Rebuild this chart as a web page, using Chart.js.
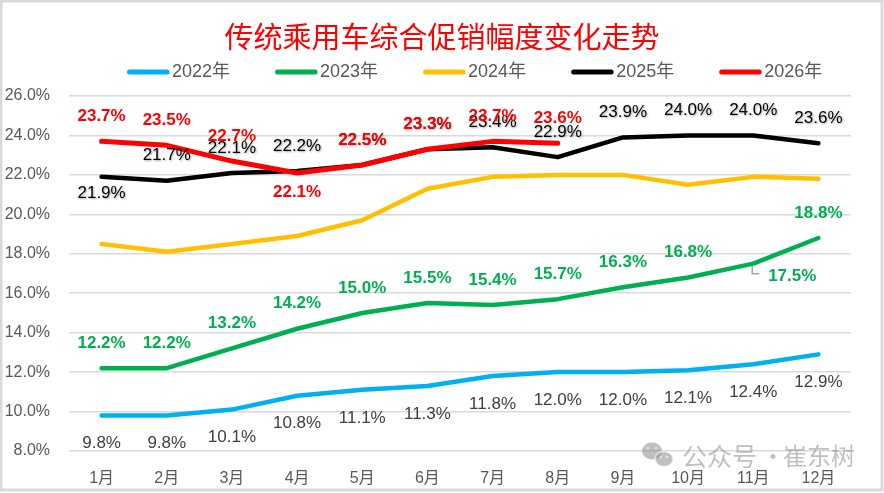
<!DOCTYPE html>
<html>
<head>
<meta charset="utf-8">
<script src="https://cdn.jsdelivr.net/npm/chart.js@4.4.0/dist/chart.umd.min.js"></script>
<style>
  html, body { margin: 0; padding: 0; background: #fff; }
  canvas { display: block; }
</style>
</head>
<body>
<canvas id="chart" width="884" height="493"></canvas>
<script>
// data
const chartTitle = '传统乘用车综合促销幅度变化走势';
const months = ['1月', '2月', '3月', '4月', '5月', '6月', '7月', '8月', '9月', '10月', '11月', '12月'];
const seriesNames = ['2022年', '2023年', '2024年', '2025年', '2026年'];
const y2022 = [9.8, 9.8, 10.1, 10.8, 11.1, 11.3, 11.8, 12.0, 12.0, 12.1, 12.4, 12.9];
const y2023 = [12.2, 12.2, 13.2, 14.2, 15.0, 15.5, 15.4, 15.7, 16.3, 16.8, 17.5, 18.8];
const y2024 = [18.5, 18.1, 18.5, 18.9, 19.7, 21.3, 21.9, 22.0, 22.0, 21.5, 21.9, 21.8];
const y2025 = [21.9, 21.7, 22.1, 22.2, 22.5, 23.3, 23.4, 22.9, 23.9, 24.0, 24.0, 23.6];
const y2026 = [23.7, 23.5, 22.7, 22.1, 22.5, 23.3, 23.7, 23.6];
const yMin = 8, yMax = 26, yStep = 2;

// styles
const NUM_FONT = '"Liberation Sans", Arial, "Noto Sans CJK SC", sans-serif';
const CJK_FONT = '"Noto Sans CJK SC", "Liberation Sans", sans-serif';
const lineColors = ['#00B0F0', '#00B050', '#FFC000', '#000000', '#FF0000'];
const lineWidths = [4.5, 4.5, 4.5, 4.5, 5];
const drawOrder = [4, 3, 2, 1, 0]; // red on top

// data label look per series (null = no labels); "moves" overrides per point
const labelStyles = [
    { font: '17px ' + NUM_FONT, color: '#404040', dy: 28 },
    { font: 'bold 17px ' + NUM_FONT, color: '#00B050', dy: -25, moves: { 10: { dx: 39, dy: 13, leader: true } } },
    null,
    { font: '17px ' + NUM_FONT, color: '#000000', dy: -25, shadow: true, moves: { 0: { dy: 16 } } },
    { font: 'bold 17px ' + NUM_FONT, color: '#FF0000', dy: -25, moves: { 3: { dy: 19 } } },
];

const valueLabels = {
    id: 'valueLabels',
    afterDatasetsDraw(chart) {
        const ctx = chart.ctx;
        labelStyles.forEach((st, i) => {
            if (!st) return;
            const meta = chart.getDatasetMeta(i);
            const values = chart.data.datasets[i].data;
            meta.data.forEach((pt, j) => {
                const mv = (st.moves && st.moves[j]) || {};
                const dx = mv.dx || 0;
                const dy = mv.dy !== undefined ? mv.dy : st.dy;
                ctx.save();
                if (mv.leader) {
                    ctx.strokeStyle = '#a6a6a6';
                    ctx.lineWidth = 1.5;
                    ctx.beginPath();
                    ctx.moveTo(pt.x - 1, pt.y + 2);
                    ctx.lineTo(pt.x - 1, pt.y + 10);
                    ctx.lineTo(pt.x + 6, pt.y + 10);
                    ctx.stroke();
                }
                ctx.font = st.font;
                ctx.fillStyle = st.color;
                ctx.textAlign = 'center';
                ctx.textBaseline = 'middle';
                if (st.shadow) {
                    ctx.shadowColor = 'rgba(0,0,0,0.35)';
                    ctx.shadowOffsetX = 1;
                    ctx.shadowOffsetY = 1;
                    ctx.shadowBlur = 2;
                }
                ctx.fillText(values[j].toFixed(1) + '%', pt.x + dx, pt.y + dy);
                ctx.restore();
            });
        });
    }
};

// title, legend row, frame and watermark
const decorations = {
    id: 'decorations',
    afterDraw(chart) {
        const ctx = chart.ctx;
        ctx.save();
        // outer frame
        ctx.strokeStyle = '#d9d9d9';
        ctx.lineWidth = 3;
        ctx.strokeRect(1, 1, 881, 489);

        // title, centred on the canvas
        ctx.fillStyle = '#FF0000';
        ctx.font = '29px ' + CJK_FONT;
        ctx.textAlign = 'center';
        ctx.textBaseline = 'middle';
        ctx.fillText(chartTitle, chart.width / 2, 37);

        // legend
        ctx.font = '18px ' + NUM_FONT;
        ctx.textAlign = 'left';
        let x = 127;
        const ly = 72;
        chart.data.datasets.forEach(ds => {
            ctx.strokeStyle = ds.borderColor;
            ctx.lineWidth = 5;
            ctx.lineCap = 'round';
            ctx.beginPath();
            ctx.moveTo(x + 2.5, ly);
            ctx.lineTo(x + 40, ly);
            ctx.stroke();
            ctx.fillStyle = '#595959';
            ctx.fillText(ds.label, x + 45, ly);
            x += 45 + ctx.measureText(ds.label).width + 45;
        });

        // watermark
        ctx.globalAlpha = 0.55;
        ctx.fillStyle = '#8c8c8c';
        ctx.beginPath();
        ctx.ellipse(652, 451, 10, 8.5, 0, 0, Math.PI * 2);
        ctx.fill();
        ctx.strokeStyle = '#ffffff';
        ctx.lineWidth = 1.5;
        ctx.beginPath();
        ctx.ellipse(664, 459, 9, 7.5, 0, 0, Math.PI * 2);
        ctx.fill();
        ctx.stroke();
        ctx.fillStyle = '#ffffff';
        [[648, 448], [656, 448], [661, 457], [667, 457]].forEach(p => {
            ctx.beginPath();
            ctx.arc(p[0], p[1], 1.3, 0, Math.PI * 2);
            ctx.fill();
        });
        ctx.fillStyle = '#8c8c8c';
        ctx.font = '25px ' + CJK_FONT;
        ctx.fillText('公众号', 682, 456);
        ctx.font = '24px ' + CJK_FONT;
        ctx.fillText('崔东树', 783, 456);
        ctx.textAlign = 'center';
        ctx.fillText('·', 773, 456);
        ctx.restore();
    }
};

const seriesValues = [y2022, y2023, y2024, y2025, y2026];

new Chart(document.getElementById('chart'), {
    type: 'line',
    data: {
        labels: months,
        datasets: seriesValues.map((vals, i) => ({
            label: seriesNames[i],
            data: vals,
            borderColor: lineColors[i],
            backgroundColor: lineColors[i],
            borderWidth: lineWidths[i],
            borderCapStyle: 'round',
            borderJoinStyle: 'round',
            pointRadius: 0,
            tension: 0,
            order: drawOrder[i],
            clip: false,
        })),
    },
    options: {
        responsive: false,
        animation: false,
        devicePixelRatio: 1,
        layout: { padding: { left: 4, right: 33, top: 96, bottom: 4 } },
        plugins: {
            legend: { display: false },
            tooltip: { enabled: false },
            title: { display: false },
        },
        scales: {
            x: {
                offset: true,
                grid: { display: false, drawTicks: false },
                border: { display: false },
                ticks: {
                    color: '#595959',
                    font: { family: NUM_FONT, size: 16 },
                    padding: 18,
                    maxRotation: 0,
                    autoSkip: false,
                },
                afterFit(scale) { scale.height = 38; },
            },
            y: {
                min: yMin,
                max: yMax,
                grid: { color: '#d9d9d9', lineWidth: 1.5, drawTicks: false },
                border: { display: false },
                ticks: {
                    stepSize: yStep,
                    color: '#595959',
                    font: { family: NUM_FONT, size: 16 },
                    padding: 19,
                    callback: v => v.toFixed(1) + '%',
                },
                afterFit(scale) { scale.width = 65; },
            },
        },
    },
    plugins: [valueLabels, decorations],
});
</script>
</body>
</html>
